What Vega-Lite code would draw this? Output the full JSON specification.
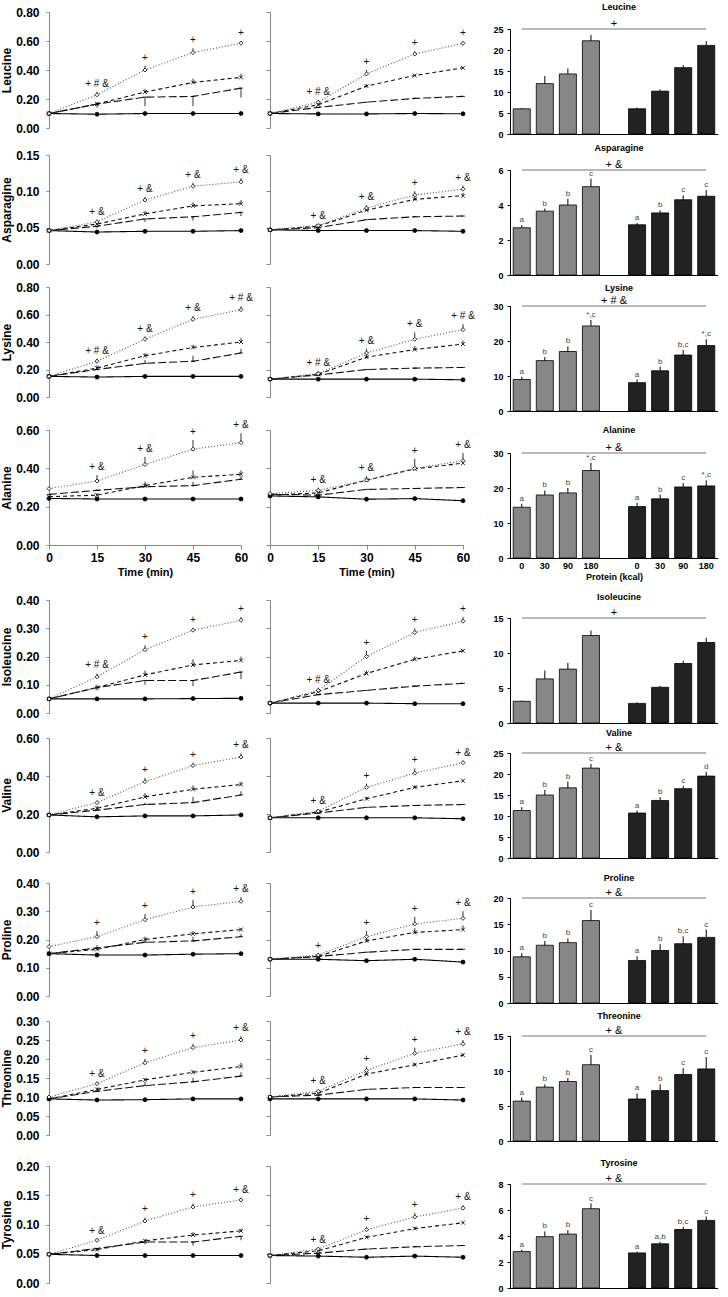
{
"$schema":"https://vega.github.io/schema/vega-lite/v6.json",
"padding":{"left":0,"top":0,"right":0,"bottom":0},
"config":{"font":"Liberation Sans","view":{"stroke":null},"axis":{"grid":false,"domainColor":"#000","tickColor":"#000","labelColor":"#000","titleColor":"#000","labelFontWeight":"bold","titleFontWeight":"bold"},"title":{"color":"#000"}},
"datasets":{
"lines":[
{"a":"Leucine","g":"A","dose":"0","t":0,"v":0.10},{"a":"Leucine","g":"A","dose":"0","t":15,"v":0.095},{"a":"Leucine","g":"A","dose":"0","t":30,"v":0.10},{"a":"Leucine","g":"A","dose":"0","t":45,"v":0.10},{"a":"Leucine","g":"A","dose":"0","t":60,"v":0.10},
{"a":"Leucine","g":"A","dose":"30","t":0,"v":0.10},{"a":"Leucine","g":"A","dose":"30","t":15,"v":0.165,"err":0.14},{"a":"Leucine","g":"A","dose":"30","t":30,"v":0.213,"err":0.15},{"a":"Leucine","g":"A","dose":"30","t":45,"v":0.218,"err":0.15},{"a":"Leucine","g":"A","dose":"30","t":60,"v":0.275,"err":0.21},
{"a":"Leucine","g":"A","dose":"90","t":0,"v":0.10},{"a":"Leucine","g":"A","dose":"90","t":15,"v":0.165,"err":0.18},{"a":"Leucine","g":"A","dose":"90","t":30,"v":0.248,"err":0.27},{"a":"Leucine","g":"A","dose":"90","t":45,"v":0.314,"err":0.34},{"a":"Leucine","g":"A","dose":"90","t":60,"v":0.349,"err":0.375},
{"a":"Leucine","g":"A","dose":"180","t":0,"v":0.10},{"a":"Leucine","g":"A","dose":"180","t":15,"v":0.229,"err":0.25,"note":"+ # &"},{"a":"Leucine","g":"A","dose":"180","t":30,"v":0.40,"err":0.43,"note":"+"},{"a":"Leucine","g":"A","dose":"180","t":45,"v":0.52,"err":0.55,"note":"+"},{"a":"Leucine","g":"A","dose":"180","t":60,"v":0.585,"err":0.60,"note":"+"},
{"a":"Leucine","g":"B","dose":"0","t":0,"v":0.10},{"a":"Leucine","g":"B","dose":"0","t":15,"v":0.097},{"a":"Leucine","g":"B","dose":"0","t":30,"v":0.097},{"a":"Leucine","g":"B","dose":"0","t":45,"v":0.10},{"a":"Leucine","g":"B","dose":"0","t":60,"v":0.098},
{"a":"Leucine","g":"B","dose":"30","t":0,"v":0.10},{"a":"Leucine","g":"B","dose":"30","t":15,"v":0.142},{"a":"Leucine","g":"B","dose":"30","t":30,"v":0.178},{"a":"Leucine","g":"B","dose":"30","t":45,"v":0.204},{"a":"Leucine","g":"B","dose":"30","t":60,"v":0.218},
{"a":"Leucine","g":"B","dose":"90","t":0,"v":0.10},{"a":"Leucine","g":"B","dose":"90","t":15,"v":0.16,"err":0.17},{"a":"Leucine","g":"B","dose":"90","t":30,"v":0.289,"err":0.30},{"a":"Leucine","g":"B","dose":"90","t":45,"v":0.362,"err":0.37},{"a":"Leucine","g":"B","dose":"90","t":60,"v":0.415,"err":0.42},
{"a":"Leucine","g":"B","dose":"180","t":0,"v":0.10},{"a":"Leucine","g":"B","dose":"180","t":15,"v":0.178,"err":0.19,"note":"+ # &"},{"a":"Leucine","g":"B","dose":"180","t":30,"v":0.373,"err":0.40,"note":"+"},{"a":"Leucine","g":"B","dose":"180","t":45,"v":0.51,"err":0.53,"note":"+"},{"a":"Leucine","g":"B","dose":"180","t":60,"v":0.584,"err":0.60,"note":"+"},

{"a":"Asparagine","g":"A","dose":"0","t":0,"v":0.046},{"a":"Asparagine","g":"A","dose":"0","t":15,"v":0.044},{"a":"Asparagine","g":"A","dose":"0","t":30,"v":0.045},{"a":"Asparagine","g":"A","dose":"0","t":45,"v":0.045},{"a":"Asparagine","g":"A","dose":"0","t":60,"v":0.046},
{"a":"Asparagine","g":"A","dose":"30","t":0,"v":0.046},{"a":"Asparagine","g":"A","dose":"30","t":15,"v":0.052,"err":0.049},{"a":"Asparagine","g":"A","dose":"30","t":30,"v":0.062,"err":0.058},{"a":"Asparagine","g":"A","dose":"30","t":45,"v":0.065,"err":0.060},{"a":"Asparagine","g":"A","dose":"30","t":60,"v":0.071,"err":0.066},
{"a":"Asparagine","g":"A","dose":"90","t":0,"v":0.046},{"a":"Asparagine","g":"A","dose":"90","t":15,"v":0.055,"err":0.058},{"a":"Asparagine","g":"A","dose":"90","t":30,"v":0.069,"err":0.073},{"a":"Asparagine","g":"A","dose":"90","t":45,"v":0.080,"err":0.085},{"a":"Asparagine","g":"A","dose":"90","t":60,"v":0.083,"err":0.088},
{"a":"Asparagine","g":"A","dose":"180","t":0,"v":0.046},{"a":"Asparagine","g":"A","dose":"180","t":15,"v":0.058,"err":0.061,"note":"+ &"},{"a":"Asparagine","g":"A","dose":"180","t":30,"v":0.088,"err":0.092,"note":"+ &"},{"a":"Asparagine","g":"A","dose":"180","t":45,"v":0.107,"err":0.112,"note":"+ &"},{"a":"Asparagine","g":"A","dose":"180","t":60,"v":0.113,"err":0.118,"note":"+ &"},
{"a":"Asparagine","g":"B","dose":"0","t":0,"v":0.047},{"a":"Asparagine","g":"B","dose":"0","t":15,"v":0.046},{"a":"Asparagine","g":"B","dose":"0","t":30,"v":0.046},{"a":"Asparagine","g":"B","dose":"0","t":45,"v":0.046},{"a":"Asparagine","g":"B","dose":"0","t":60,"v":0.045},
{"a":"Asparagine","g":"B","dose":"30","t":0,"v":0.047},{"a":"Asparagine","g":"B","dose":"30","t":15,"v":0.050},{"a":"Asparagine","g":"B","dose":"30","t":30,"v":0.061},{"a":"Asparagine","g":"B","dose":"30","t":45,"v":0.065},{"a":"Asparagine","g":"B","dose":"30","t":60,"v":0.066},
{"a":"Asparagine","g":"B","dose":"90","t":0,"v":0.047},{"a":"Asparagine","g":"B","dose":"90","t":15,"v":0.052,"err":0.054},{"a":"Asparagine","g":"B","dose":"90","t":30,"v":0.074,"err":0.078},{"a":"Asparagine","g":"B","dose":"90","t":45,"v":0.089,"err":0.093},{"a":"Asparagine","g":"B","dose":"90","t":60,"v":0.094,"err":0.098},
{"a":"Asparagine","g":"B","dose":"180","t":0,"v":0.047},{"a":"Asparagine","g":"B","dose":"180","t":15,"v":0.053,"err":0.055,"note":"+ &"},{"a":"Asparagine","g":"B","dose":"180","t":30,"v":0.077,"err":0.081,"note":"+ &"},{"a":"Asparagine","g":"B","dose":"180","t":45,"v":0.095,"err":0.100,"note":"+"},{"a":"Asparagine","g":"B","dose":"180","t":60,"v":0.103,"err":0.108,"note":"+ &"},

{"a":"Lysine","g":"A","dose":"0","t":0,"v":0.15},{"a":"Lysine","g":"A","dose":"0","t":15,"v":0.145},{"a":"Lysine","g":"A","dose":"0","t":30,"v":0.15},{"a":"Lysine","g":"A","dose":"0","t":45,"v":0.15},{"a":"Lysine","g":"A","dose":"0","t":60,"v":0.15},
{"a":"Lysine","g":"A","dose":"30","t":0,"v":0.15},{"a":"Lysine","g":"A","dose":"30","t":15,"v":0.20,"err":0.22},{"a":"Lysine","g":"A","dose":"30","t":30,"v":0.245,"err":0.27},{"a":"Lysine","g":"A","dose":"30","t":45,"v":0.26,"err":0.30},{"a":"Lysine","g":"A","dose":"30","t":60,"v":0.32,"err":0.35},
{"a":"Lysine","g":"A","dose":"90","t":0,"v":0.15},{"a":"Lysine","g":"A","dose":"90","t":15,"v":0.21,"err":0.23},{"a":"Lysine","g":"A","dose":"90","t":30,"v":0.30,"err":0.32},{"a":"Lysine","g":"A","dose":"90","t":45,"v":0.36,"err":0.38},{"a":"Lysine","g":"A","dose":"90","t":60,"v":0.40,"err":0.43},
{"a":"Lysine","g":"A","dose":"180","t":0,"v":0.15},{"a":"Lysine","g":"A","dose":"180","t":15,"v":0.26,"err":0.28,"note":"+ # &"},{"a":"Lysine","g":"A","dose":"180","t":30,"v":0.42,"err":0.44,"note":"+ &"},{"a":"Lysine","g":"A","dose":"180","t":45,"v":0.565,"err":0.59,"note":"+ &"},{"a":"Lysine","g":"A","dose":"180","t":60,"v":0.635,"err":0.66,"note":"+ # &"},
{"a":"Lysine","g":"B","dose":"0","t":0,"v":0.13},{"a":"Lysine","g":"B","dose":"0","t":15,"v":0.13},{"a":"Lysine","g":"B","dose":"0","t":30,"v":0.13},{"a":"Lysine","g":"B","dose":"0","t":45,"v":0.13},{"a":"Lysine","g":"B","dose":"0","t":60,"v":0.125},
{"a":"Lysine","g":"B","dose":"30","t":0,"v":0.13},{"a":"Lysine","g":"B","dose":"30","t":15,"v":0.16},{"a":"Lysine","g":"B","dose":"30","t":30,"v":0.20},{"a":"Lysine","g":"B","dose":"30","t":45,"v":0.21},{"a":"Lysine","g":"B","dose":"30","t":60,"v":0.215},
{"a":"Lysine","g":"B","dose":"90","t":0,"v":0.13},{"a":"Lysine","g":"B","dose":"90","t":15,"v":0.165,"err":0.18},{"a":"Lysine","g":"B","dose":"90","t":30,"v":0.29,"err":0.31},{"a":"Lysine","g":"B","dose":"90","t":45,"v":0.345,"err":0.37},{"a":"Lysine","g":"B","dose":"90","t":60,"v":0.385,"err":0.41},
{"a":"Lysine","g":"B","dose":"180","t":0,"v":0.13},{"a":"Lysine","g":"B","dose":"180","t":15,"v":0.17,"err":0.19,"note":"+ # &"},{"a":"Lysine","g":"B","dose":"180","t":30,"v":0.32,"err":0.35,"note":"+ &"},{"a":"Lysine","g":"B","dose":"180","t":45,"v":0.42,"err":0.47,"note":"+ &"},{"a":"Lysine","g":"B","dose":"180","t":60,"v":0.49,"err":0.53,"note":"+ # &"},

{"a":"Alanine","g":"A","dose":"0","t":0,"v":0.243},{"a":"Alanine","g":"A","dose":"0","t":15,"v":0.24},{"a":"Alanine","g":"A","dose":"0","t":30,"v":0.24},{"a":"Alanine","g":"A","dose":"0","t":45,"v":0.24},{"a":"Alanine","g":"A","dose":"0","t":60,"v":0.24},
{"a":"Alanine","g":"A","dose":"30","t":0,"v":0.264},{"a":"Alanine","g":"A","dose":"30","t":15,"v":0.285,"err":0.29},{"a":"Alanine","g":"A","dose":"30","t":30,"v":0.304,"err":0.32},{"a":"Alanine","g":"A","dose":"30","t":45,"v":0.31,"err":0.33},{"a":"Alanine","g":"A","dose":"30","t":60,"v":0.343,"err":0.36},
{"a":"Alanine","g":"A","dose":"90","t":0,"v":0.252},{"a":"Alanine","g":"A","dose":"90","t":15,"v":0.26,"err":0.27},{"a":"Alanine","g":"A","dose":"90","t":30,"v":0.31,"err":0.33},{"a":"Alanine","g":"A","dose":"90","t":45,"v":0.353,"err":0.39},{"a":"Alanine","g":"A","dose":"90","t":60,"v":0.369,"err":0.39},
{"a":"Alanine","g":"A","dose":"180","t":0,"v":0.294},{"a":"Alanine","g":"A","dose":"180","t":15,"v":0.334,"err":0.365,"note":"+ &"},{"a":"Alanine","g":"A","dose":"180","t":30,"v":0.42,"err":0.46,"note":"+ &"},{"a":"Alanine","g":"A","dose":"180","t":45,"v":0.50,"err":0.548,"note":"+"},{"a":"Alanine","g":"A","dose":"180","t":60,"v":0.534,"err":0.583,"note":"+ &"},
{"a":"Alanine","g":"B","dose":"0","t":0,"v":0.256},{"a":"Alanine","g":"B","dose":"0","t":15,"v":0.251},{"a":"Alanine","g":"B","dose":"0","t":30,"v":0.239},{"a":"Alanine","g":"B","dose":"0","t":45,"v":0.242},{"a":"Alanine","g":"B","dose":"0","t":60,"v":0.231},
{"a":"Alanine","g":"B","dose":"30","t":0,"v":0.265},{"a":"Alanine","g":"B","dose":"30","t":15,"v":0.26},{"a":"Alanine","g":"B","dose":"30","t":30,"v":0.29},{"a":"Alanine","g":"B","dose":"30","t":45,"v":0.295},{"a":"Alanine","g":"B","dose":"30","t":60,"v":0.30},
{"a":"Alanine","g":"B","dose":"90","t":0,"v":0.26},{"a":"Alanine","g":"B","dose":"90","t":15,"v":0.272,"err":0.28},{"a":"Alanine","g":"B","dose":"90","t":30,"v":0.338,"err":0.35},{"a":"Alanine","g":"B","dose":"90","t":45,"v":0.397,"err":0.41},{"a":"Alanine","g":"B","dose":"90","t":60,"v":0.427,"err":0.44},
{"a":"Alanine","g":"B","dose":"180","t":0,"v":0.268},{"a":"Alanine","g":"B","dose":"180","t":15,"v":0.285,"err":0.30,"note":"+ &"},{"a":"Alanine","g":"B","dose":"180","t":30,"v":0.338,"err":0.36,"note":"+ &"},{"a":"Alanine","g":"B","dose":"180","t":45,"v":0.40,"err":0.45,"note":"+"},{"a":"Alanine","g":"B","dose":"180","t":60,"v":0.44,"err":0.48,"note":"+ &"},

{"a":"Isoleucine","g":"A","dose":"0","t":0,"v":0.05},{"a":"Isoleucine","g":"A","dose":"0","t":15,"v":0.05},{"a":"Isoleucine","g":"A","dose":"0","t":30,"v":0.05},{"a":"Isoleucine","g":"A","dose":"0","t":45,"v":0.051},{"a":"Isoleucine","g":"A","dose":"0","t":60,"v":0.052},
{"a":"Isoleucine","g":"A","dose":"30","t":0,"v":0.05},{"a":"Isoleucine","g":"A","dose":"30","t":15,"v":0.09,"err":0.08},{"a":"Isoleucine","g":"A","dose":"30","t":30,"v":0.115,"err":0.10},{"a":"Isoleucine","g":"A","dose":"30","t":45,"v":0.115,"err":0.095},{"a":"Isoleucine","g":"A","dose":"30","t":60,"v":0.145,"err":0.12},
{"a":"Isoleucine","g":"A","dose":"90","t":0,"v":0.05},{"a":"Isoleucine","g":"A","dose":"90","t":15,"v":0.09,"err":0.10},{"a":"Isoleucine","g":"A","dose":"90","t":30,"v":0.135,"err":0.15},{"a":"Isoleucine","g":"A","dose":"90","t":45,"v":0.17,"err":0.19},{"a":"Isoleucine","g":"A","dose":"90","t":60,"v":0.186,"err":0.20},
{"a":"Isoleucine","g":"A","dose":"180","t":0,"v":0.05},{"a":"Isoleucine","g":"A","dose":"180","t":15,"v":0.128,"err":0.14,"note":"+ # &"},{"a":"Isoleucine","g":"A","dose":"180","t":30,"v":0.224,"err":0.24,"note":"+"},{"a":"Isoleucine","g":"A","dose":"180","t":45,"v":0.293,"err":0.30,"note":"+"},{"a":"Isoleucine","g":"A","dose":"180","t":60,"v":0.328,"err":0.34,"note":"+"},
{"a":"Isoleucine","g":"B","dose":"0","t":0,"v":0.035},{"a":"Isoleucine","g":"B","dose":"0","t":15,"v":0.035},{"a":"Isoleucine","g":"B","dose":"0","t":30,"v":0.035},{"a":"Isoleucine","g":"B","dose":"0","t":45,"v":0.033},{"a":"Isoleucine","g":"B","dose":"0","t":60,"v":0.033},
{"a":"Isoleucine","g":"B","dose":"30","t":0,"v":0.035},{"a":"Isoleucine","g":"B","dose":"30","t":15,"v":0.065},{"a":"Isoleucine","g":"B","dose":"30","t":30,"v":0.08},{"a":"Isoleucine","g":"B","dose":"30","t":45,"v":0.095},{"a":"Isoleucine","g":"B","dose":"30","t":60,"v":0.105},
{"a":"Isoleucine","g":"B","dose":"90","t":0,"v":0.035},{"a":"Isoleucine","g":"B","dose":"90","t":15,"v":0.075,"err":0.08},{"a":"Isoleucine","g":"B","dose":"90","t":30,"v":0.14,"err":0.15},{"a":"Isoleucine","g":"B","dose":"90","t":45,"v":0.19,"err":0.20},{"a":"Isoleucine","g":"B","dose":"90","t":60,"v":0.22,"err":0.225},
{"a":"Isoleucine","g":"B","dose":"180","t":0,"v":0.035},{"a":"Isoleucine","g":"B","dose":"180","t":15,"v":0.08,"err":0.09,"note":"+ # &"},{"a":"Isoleucine","g":"B","dose":"180","t":30,"v":0.20,"err":0.22,"note":"+"},{"a":"Isoleucine","g":"B","dose":"180","t":45,"v":0.285,"err":0.30,"note":"+"},{"a":"Isoleucine","g":"B","dose":"180","t":60,"v":0.325,"err":0.34,"note":"+"},

{"a":"Valine","g":"A","dose":"0","t":0,"v":0.195},{"a":"Valine","g":"A","dose":"0","t":15,"v":0.185},{"a":"Valine","g":"A","dose":"0","t":30,"v":0.19},{"a":"Valine","g":"A","dose":"0","t":45,"v":0.19},{"a":"Valine","g":"A","dose":"0","t":60,"v":0.195},
{"a":"Valine","g":"A","dose":"30","t":0,"v":0.195},{"a":"Valine","g":"A","dose":"30","t":15,"v":0.22,"err":0.23},{"a":"Valine","g":"A","dose":"30","t":30,"v":0.25,"err":0.26},{"a":"Valine","g":"A","dose":"30","t":45,"v":0.26,"err":0.29},{"a":"Valine","g":"A","dose":"30","t":60,"v":0.30,"err":0.32},
{"a":"Valine","g":"A","dose":"90","t":0,"v":0.195},{"a":"Valine","g":"A","dose":"90","t":15,"v":0.23,"err":0.24},{"a":"Valine","g":"A","dose":"90","t":30,"v":0.29,"err":0.31},{"a":"Valine","g":"A","dose":"90","t":45,"v":0.33,"err":0.35},{"a":"Valine","g":"A","dose":"90","t":60,"v":0.355,"err":0.37},
{"a":"Valine","g":"A","dose":"180","t":0,"v":0.195},{"a":"Valine","g":"A","dose":"180","t":15,"v":0.26,"err":0.27,"note":"+ &"},{"a":"Valine","g":"A","dose":"180","t":30,"v":0.37,"err":0.39,"note":"+"},{"a":"Valine","g":"A","dose":"180","t":45,"v":0.455,"err":0.47,"note":"+"},{"a":"Valine","g":"A","dose":"180","t":60,"v":0.50,"err":0.52,"note":"+ &"},
{"a":"Valine","g":"B","dose":"0","t":0,"v":0.18},{"a":"Valine","g":"B","dose":"0","t":15,"v":0.18},{"a":"Valine","g":"B","dose":"0","t":30,"v":0.18},{"a":"Valine","g":"B","dose":"0","t":45,"v":0.18},{"a":"Valine","g":"B","dose":"0","t":60,"v":0.175},
{"a":"Valine","g":"B","dose":"30","t":0,"v":0.18},{"a":"Valine","g":"B","dose":"30","t":15,"v":0.205},{"a":"Valine","g":"B","dose":"30","t":30,"v":0.235},{"a":"Valine","g":"B","dose":"30","t":45,"v":0.245},{"a":"Valine","g":"B","dose":"30","t":60,"v":0.25},
{"a":"Valine","g":"B","dose":"90","t":0,"v":0.18},{"a":"Valine","g":"B","dose":"90","t":15,"v":0.21,"err":0.22},{"a":"Valine","g":"B","dose":"90","t":30,"v":0.28,"err":0.29},{"a":"Valine","g":"B","dose":"90","t":45,"v":0.34,"err":0.35},{"a":"Valine","g":"B","dose":"90","t":60,"v":0.375,"err":0.38},
{"a":"Valine","g":"B","dose":"180","t":0,"v":0.18},{"a":"Valine","g":"B","dose":"180","t":15,"v":0.215,"err":0.225,"note":"+ &"},{"a":"Valine","g":"B","dose":"180","t":30,"v":0.34,"err":0.36,"note":"+"},{"a":"Valine","g":"B","dose":"180","t":45,"v":0.415,"err":0.44,"note":"+"},{"a":"Valine","g":"B","dose":"180","t":60,"v":0.47,"err":0.48,"note":"+ &"},

{"a":"Proline","g":"A","dose":"0","t":0,"v":0.15},{"a":"Proline","g":"A","dose":"0","t":15,"v":0.145},{"a":"Proline","g":"A","dose":"0","t":30,"v":0.145},{"a":"Proline","g":"A","dose":"0","t":45,"v":0.148},{"a":"Proline","g":"A","dose":"0","t":60,"v":0.15},
{"a":"Proline","g":"A","dose":"30","t":0,"v":0.15},{"a":"Proline","g":"A","dose":"30","t":15,"v":0.17,"err":0.18},{"a":"Proline","g":"A","dose":"30","t":30,"v":0.19,"err":0.20},{"a":"Proline","g":"A","dose":"30","t":45,"v":0.195,"err":0.21},{"a":"Proline","g":"A","dose":"30","t":60,"v":0.21,"err":0.22},
{"a":"Proline","g":"A","dose":"90","t":0,"v":0.15},{"a":"Proline","g":"A","dose":"90","t":15,"v":0.165,"err":0.17},{"a":"Proline","g":"A","dose":"90","t":30,"v":0.20,"err":0.21},{"a":"Proline","g":"A","dose":"90","t":45,"v":0.22,"err":0.23},{"a":"Proline","g":"A","dose":"90","t":60,"v":0.235,"err":0.24},
{"a":"Proline","g":"A","dose":"180","t":0,"v":0.175},{"a":"Proline","g":"A","dose":"180","t":15,"v":0.21,"err":0.23,"note":"+"},{"a":"Proline","g":"A","dose":"180","t":30,"v":0.27,"err":0.29,"note":"+"},{"a":"Proline","g":"A","dose":"180","t":45,"v":0.315,"err":0.34,"note":"+"},{"a":"Proline","g":"A","dose":"180","t":60,"v":0.335,"err":0.35,"note":"+ &"},
{"a":"Proline","g":"B","dose":"0","t":0,"v":0.13},{"a":"Proline","g":"B","dose":"0","t":15,"v":0.13},{"a":"Proline","g":"B","dose":"0","t":30,"v":0.125},{"a":"Proline","g":"B","dose":"0","t":45,"v":0.13},{"a":"Proline","g":"B","dose":"0","t":60,"v":0.12},
{"a":"Proline","g":"B","dose":"30","t":0,"v":0.13},{"a":"Proline","g":"B","dose":"30","t":15,"v":0.14},{"a":"Proline","g":"B","dose":"30","t":30,"v":0.155},{"a":"Proline","g":"B","dose":"30","t":45,"v":0.165},{"a":"Proline","g":"B","dose":"30","t":60,"v":0.165},
{"a":"Proline","g":"B","dose":"90","t":0,"v":0.13},{"a":"Proline","g":"B","dose":"90","t":15,"v":0.14,"err":0.15},{"a":"Proline","g":"B","dose":"90","t":30,"v":0.195,"err":0.21},{"a":"Proline","g":"B","dose":"90","t":45,"v":0.225,"err":0.24},{"a":"Proline","g":"B","dose":"90","t":60,"v":0.235,"err":0.25},
{"a":"Proline","g":"B","dose":"180","t":0,"v":0.13},{"a":"Proline","g":"B","dose":"180","t":15,"v":0.145,"err":0.15,"note":"+"},{"a":"Proline","g":"B","dose":"180","t":30,"v":0.21,"err":0.23,"note":"+"},{"a":"Proline","g":"B","dose":"180","t":45,"v":0.255,"err":0.28,"note":"+"},{"a":"Proline","g":"B","dose":"180","t":60,"v":0.275,"err":0.30,"note":"+ &"},

{"a":"Threonine","g":"A","dose":"0","t":0,"v":0.095},{"a":"Threonine","g":"A","dose":"0","t":15,"v":0.092},{"a":"Threonine","g":"A","dose":"0","t":30,"v":0.093},{"a":"Threonine","g":"A","dose":"0","t":45,"v":0.095},{"a":"Threonine","g":"A","dose":"0","t":60,"v":0.095},
{"a":"Threonine","g":"A","dose":"30","t":0,"v":0.095},{"a":"Threonine","g":"A","dose":"30","t":15,"v":0.115,"err":0.12},{"a":"Threonine","g":"A","dose":"30","t":30,"v":0.13,"err":0.14},{"a":"Threonine","g":"A","dose":"30","t":45,"v":0.14,"err":0.15},{"a":"Threonine","g":"A","dose":"30","t":60,"v":0.155,"err":0.165},
{"a":"Threonine","g":"A","dose":"90","t":0,"v":0.095},{"a":"Threonine","g":"A","dose":"90","t":15,"v":0.12,"err":0.125},{"a":"Threonine","g":"A","dose":"90","t":30,"v":0.145,"err":0.15},{"a":"Threonine","g":"A","dose":"90","t":45,"v":0.165,"err":0.17},{"a":"Threonine","g":"A","dose":"90","t":60,"v":0.18,"err":0.19},
{"a":"Threonine","g":"A","dose":"180","t":0,"v":0.10},{"a":"Threonine","g":"A","dose":"180","t":15,"v":0.135,"err":0.14,"note":"+ &"},{"a":"Threonine","g":"A","dose":"180","t":30,"v":0.19,"err":0.20,"note":"+"},{"a":"Threonine","g":"A","dose":"180","t":45,"v":0.23,"err":0.24,"note":"+"},{"a":"Threonine","g":"A","dose":"180","t":60,"v":0.25,"err":0.26,"note":"+ &"},
{"a":"Threonine","g":"B","dose":"0","t":0,"v":0.095},{"a":"Threonine","g":"B","dose":"0","t":15,"v":0.095},{"a":"Threonine","g":"B","dose":"0","t":30,"v":0.095},{"a":"Threonine","g":"B","dose":"0","t":45,"v":0.095},{"a":"Threonine","g":"B","dose":"0","t":60,"v":0.092},
{"a":"Threonine","g":"B","dose":"30","t":0,"v":0.10},{"a":"Threonine","g":"B","dose":"30","t":15,"v":0.105},{"a":"Threonine","g":"B","dose":"30","t":30,"v":0.12},{"a":"Threonine","g":"B","dose":"30","t":45,"v":0.125},{"a":"Threonine","g":"B","dose":"30","t":60,"v":0.125},
{"a":"Threonine","g":"B","dose":"90","t":0,"v":0.10},{"a":"Threonine","g":"B","dose":"90","t":15,"v":0.11,"err":0.115},{"a":"Threonine","g":"B","dose":"90","t":30,"v":0.16,"err":0.17},{"a":"Threonine","g":"B","dose":"90","t":45,"v":0.185,"err":0.19},{"a":"Threonine","g":"B","dose":"90","t":60,"v":0.21,"err":0.215},
{"a":"Threonine","g":"B","dose":"180","t":0,"v":0.10},{"a":"Threonine","g":"B","dose":"180","t":15,"v":0.115,"err":0.12,"note":"+ &"},{"a":"Threonine","g":"B","dose":"180","t":30,"v":0.17,"err":0.18,"note":"+"},{"a":"Threonine","g":"B","dose":"180","t":45,"v":0.215,"err":0.23,"note":"+"},{"a":"Threonine","g":"B","dose":"180","t":60,"v":0.24,"err":0.25,"note":"+ &"},

{"a":"Tyrosine","g":"A","dose":"0","t":0,"v":0.049},{"a":"Tyrosine","g":"A","dose":"0","t":15,"v":0.047},{"a":"Tyrosine","g":"A","dose":"0","t":30,"v":0.047},{"a":"Tyrosine","g":"A","dose":"0","t":45,"v":0.047},{"a":"Tyrosine","g":"A","dose":"0","t":60,"v":0.047},
{"a":"Tyrosine","g":"A","dose":"30","t":0,"v":0.049},{"a":"Tyrosine","g":"A","dose":"30","t":15,"v":0.059,"err":0.055},{"a":"Tyrosine","g":"A","dose":"30","t":30,"v":0.07,"err":0.066},{"a":"Tyrosine","g":"A","dose":"30","t":45,"v":0.07,"err":0.064},{"a":"Tyrosine","g":"A","dose":"30","t":60,"v":0.08,"err":0.073},
{"a":"Tyrosine","g":"A","dose":"90","t":0,"v":0.049},{"a":"Tyrosine","g":"A","dose":"90","t":15,"v":0.057,"err":0.06},{"a":"Tyrosine","g":"A","dose":"90","t":30,"v":0.072,"err":0.075},{"a":"Tyrosine","g":"A","dose":"90","t":45,"v":0.082,"err":0.087},{"a":"Tyrosine","g":"A","dose":"90","t":60,"v":0.089,"err":0.093},
{"a":"Tyrosine","g":"A","dose":"180","t":0,"v":0.049},{"a":"Tyrosine","g":"A","dose":"180","t":15,"v":0.073,"err":0.076,"note":"+ &"},{"a":"Tyrosine","g":"A","dose":"180","t":30,"v":0.106,"err":0.112,"note":"+"},{"a":"Tyrosine","g":"A","dose":"180","t":45,"v":0.130,"err":0.136,"note":"+"},{"a":"Tyrosine","g":"A","dose":"180","t":60,"v":0.142,"err":0.145,"note":"+ &"},
{"a":"Tyrosine","g":"B","dose":"0","t":0,"v":0.047},{"a":"Tyrosine","g":"B","dose":"0","t":15,"v":0.046},{"a":"Tyrosine","g":"B","dose":"0","t":30,"v":0.044},{"a":"Tyrosine","g":"B","dose":"0","t":45,"v":0.046},{"a":"Tyrosine","g":"B","dose":"0","t":60,"v":0.044},
{"a":"Tyrosine","g":"B","dose":"30","t":0,"v":0.047},{"a":"Tyrosine","g":"B","dose":"30","t":15,"v":0.051},{"a":"Tyrosine","g":"B","dose":"30","t":30,"v":0.058},{"a":"Tyrosine","g":"B","dose":"30","t":45,"v":0.062},{"a":"Tyrosine","g":"B","dose":"30","t":60,"v":0.064},
{"a":"Tyrosine","g":"B","dose":"90","t":0,"v":0.047},{"a":"Tyrosine","g":"B","dose":"90","t":15,"v":0.055,"err":0.056},{"a":"Tyrosine","g":"B","dose":"90","t":30,"v":0.078,"err":0.081},{"a":"Tyrosine","g":"B","dose":"90","t":45,"v":0.093,"err":0.096},{"a":"Tyrosine","g":"B","dose":"90","t":60,"v":0.103,"err":0.105},
{"a":"Tyrosine","g":"B","dose":"180","t":0,"v":0.047},{"a":"Tyrosine","g":"B","dose":"180","t":15,"v":0.058,"err":0.06,"note":"+ &"},{"a":"Tyrosine","g":"B","dose":"180","t":30,"v":0.091,"err":0.096,"note":"+"},{"a":"Tyrosine","g":"B","dose":"180","t":45,"v":0.113,"err":0.12,"note":"+"},{"a":"Tyrosine","g":"B","dose":"180","t":60,"v":0.128,"err":0.133,"note":"+ &"}
],
"bars":[
{"a":"Leucine","slot":"A0","g":"A","v":6.0,"err":6.2},{"a":"Leucine","slot":"A30","g":"A","v":12.0,"err":13.8},{"a":"Leucine","slot":"A90","g":"A","v":14.3,"err":15.6},{"a":"Leucine","slot":"A180","g":"A","v":22.2,"err":23.6},
{"a":"Leucine","slot":"B0","g":"B","v":6.0,"err":6.3},{"a":"Leucine","slot":"B30","g":"B","v":10.2,"err":10.6},{"a":"Leucine","slot":"B90","g":"B","v":15.8,"err":16.4},{"a":"Leucine","slot":"B180","g":"B","v":21.1,"err":22.1},
{"a":"Asparagine","slot":"A0","g":"A","v":2.7,"err":2.85,"note":"a"},{"a":"Asparagine","slot":"A30","g":"A","v":3.65,"err":3.8,"note":"b"},{"a":"Asparagine","slot":"A90","g":"A","v":4.0,"err":4.35,"note":"b"},{"a":"Asparagine","slot":"A180","g":"A","v":5.05,"err":5.5,"note":"c"},
{"a":"Asparagine","slot":"B0","g":"B","v":2.87,"err":2.97,"note":"a"},{"a":"Asparagine","slot":"B30","g":"B","v":3.55,"err":3.7,"note":"b"},{"a":"Asparagine","slot":"B90","g":"B","v":4.3,"err":4.55,"note":"c"},{"a":"Asparagine","slot":"B180","g":"B","v":4.5,"err":4.85,"note":"c"},
{"a":"Lysine","slot":"A0","g":"A","v":9.0,"err":9.8,"note":"a"},{"a":"Lysine","slot":"A30","g":"A","v":14.4,"err":15.4,"note":"b"},{"a":"Lysine","slot":"A90","g":"A","v":17.0,"err":18.5,"note":"b"},{"a":"Lysine","slot":"A180","g":"A","v":24.3,"err":26.0,"note":"*,c"},
{"a":"Lysine","slot":"B0","g":"B","v":8.1,"err":9.0,"note":"a"},{"a":"Lysine","slot":"B30","g":"B","v":11.5,"err":12.7,"note":"b"},{"a":"Lysine","slot":"B90","g":"B","v":16.0,"err":17.4,"note":"b,c"},{"a":"Lysine","slot":"B180","g":"B","v":18.7,"err":20.5,"note":"*,c"},
{"a":"Alanine","slot":"A0","g":"A","v":14.5,"err":15.5,"note":"a"},{"a":"Alanine","slot":"A30","g":"A","v":18.0,"err":19.3,"note":"b"},{"a":"Alanine","slot":"A90","g":"A","v":18.6,"err":20.0,"note":"b"},{"a":"Alanine","slot":"A180","g":"A","v":25.0,"err":27.2,"note":"*,c"},
{"a":"Alanine","slot":"B0","g":"B","v":14.7,"err":15.8,"note":"a"},{"a":"Alanine","slot":"B30","g":"B","v":16.9,"err":18.1,"note":"b"},{"a":"Alanine","slot":"B90","g":"B","v":20.3,"err":21.4,"note":"c"},{"a":"Alanine","slot":"B180","g":"B","v":20.6,"err":22.2,"note":"*,c"},
{"a":"Isoleucine","slot":"A0","g":"A","v":3.1,"err":3.2},{"a":"Isoleucine","slot":"A30","g":"A","v":6.3,"err":7.5},{"a":"Isoleucine","slot":"A90","g":"A","v":7.7,"err":8.6},{"a":"Isoleucine","slot":"A180","g":"A","v":12.5,"err":13.2},
{"a":"Isoleucine","slot":"B0","g":"B","v":2.8,"err":2.95},{"a":"Isoleucine","slot":"B30","g":"B","v":5.1,"err":5.3},{"a":"Isoleucine","slot":"B90","g":"B","v":8.5,"err":8.9},{"a":"Isoleucine","slot":"B180","g":"B","v":11.5,"err":12.2},
{"a":"Valine","slot":"A0","g":"A","v":11.3,"err":12.1,"note":"a"},{"a":"Valine","slot":"A30","g":"A","v":15.0,"err":16.2,"note":"b"},{"a":"Valine","slot":"A90","g":"A","v":16.7,"err":18.2,"note":"b"},{"a":"Valine","slot":"A180","g":"A","v":21.4,"err":22.4,"note":"c"},
{"a":"Valine","slot":"B0","g":"B","v":10.7,"err":11.3,"note":"a"},{"a":"Valine","slot":"B30","g":"B","v":13.7,"err":14.5,"note":"b"},{"a":"Valine","slot":"B90","g":"B","v":16.5,"err":17.2,"note":"c"},{"a":"Valine","slot":"B180","g":"B","v":19.5,"err":20.5,"note":"d"},
{"a":"Proline","slot":"A0","g":"A","v":8.8,"err":9.5,"note":"a"},{"a":"Proline","slot":"A30","g":"A","v":11.0,"err":11.8,"note":"b"},{"a":"Proline","slot":"A90","g":"A","v":11.5,"err":12.3,"note":"b"},{"a":"Proline","slot":"A180","g":"A","v":15.7,"err":17.7,"note":"c"},
{"a":"Proline","slot":"B0","g":"B","v":8.1,"err":8.9,"note":"a"},{"a":"Proline","slot":"B30","g":"B","v":10.0,"err":11.2,"note":"b"},{"a":"Proline","slot":"B90","g":"B","v":11.3,"err":12.7,"note":"b,c"},{"a":"Proline","slot":"B180","g":"B","v":12.5,"err":14.0,"note":"c"},
{"a":"Threonine","slot":"A0","g":"A","v":5.7,"err":6.2,"note":"a"},{"a":"Threonine","slot":"A30","g":"A","v":7.7,"err":8.1,"note":"b"},{"a":"Threonine","slot":"A90","g":"A","v":8.5,"err":9.0,"note":"b"},{"a":"Threonine","slot":"A180","g":"A","v":10.9,"err":12.3,"note":"c"},
{"a":"Threonine","slot":"B0","g":"B","v":6.0,"err":6.8,"note":"a"},{"a":"Threonine","slot":"B30","g":"B","v":7.2,"err":8.1,"note":"b"},{"a":"Threonine","slot":"B90","g":"B","v":9.5,"err":10.4,"note":"c"},{"a":"Threonine","slot":"B180","g":"B","v":10.3,"err":12.0,"note":"c"},
{"a":"Tyrosine","slot":"A0","g":"A","v":2.8,"err":2.95,"note":"a"},{"a":"Tyrosine","slot":"A30","g":"A","v":3.95,"err":4.35,"note":"b"},{"a":"Tyrosine","slot":"A90","g":"A","v":4.15,"err":4.45,"note":"b"},{"a":"Tyrosine","slot":"A180","g":"A","v":6.1,"err":6.5,"note":"c"},
{"a":"Tyrosine","slot":"B0","g":"B","v":2.7,"err":2.8,"note":"a"},{"a":"Tyrosine","slot":"B30","g":"B","v":3.4,"err":3.55,"note":"a,b"},{"a":"Tyrosine","slot":"B90","g":"B","v":4.5,"err":4.7,"note":"b,c"},{"a":"Tyrosine","slot":"B180","g":"B","v":5.2,"err":5.5,"note":"c"}
],
"sig":[
{"a":"Leucine","note":"+","from":"A0","to":"B180","mid":"gap","top":25},
{"a":"Asparagine","note":"+ &","from":"A0","to":"B180","mid":"gap","top":6},
{"a":"Lysine","note":"+ # &","from":"A0","to":"B180","mid":"gap","top":30},
{"a":"Alanine","note":"+ &","from":"A0","to":"B180","mid":"gap","top":30},
{"a":"Isoleucine","note":"+","from":"A0","to":"B180","mid":"gap","top":15},
{"a":"Valine","note":"+ &","from":"A0","to":"B180","mid":"gap","top":25},
{"a":"Proline","note":"+ &","from":"A0","to":"B180","mid":"gap","top":20},
{"a":"Threonine","note":"+ &","from":"A0","to":"B180","mid":"gap","top":15},
{"a":"Tyrosine","note":"+ &","from":"A0","to":"B180","mid":"gap","top":8}
]
},
"spacing":1,
"vconcat":[
{"hconcat":[
{"width":192,"height":128,"data":{"name":"lines"},"transform":[{"filter":"datum.a=='Leucine' && datum.g=='A'"}],"encoding":{"x":{"field":"t","type":"quantitative","scale":{"domain":[0,60]},"axis":null},"y":{"field":"v","type":"quantitative","scale":{"domain":[0,0.8],"range":[128,12]},"axis":{"values":[0,0.2,0.4,0.6,0.8],"format":".2f","title":"Leucine","labelFontSize":12,"titleFontSize":12,"tickSize":3,"labelPadding":7,"titlePadding":2,"domainColor":"#888","tickColor":"#888"}}},
"layer":[
{"mark":{"type":"line","strokeWidth":1.1},"encoding":{"strokeDash":{"field":"dose","type":"nominal","scale":{"domain":["0","30","90","180"],"range":[[1,0],[8,3],[4,3],[1,2]]},"legend":null},"stroke":{"field":"dose","type":"nominal","scale":{"domain":["0","30","90","180"],"range":["#000","#111","#111","#555"]},"legend":null}}},
{"transform":[{"filter":"isValid(datum.err)"}],"mark":{"type":"rule","strokeWidth":0.8,"color":"#000"},"encoding":{"y2":{"field":"err"}}},
{"mark":{"type":"point","filled":true,"stroke":"#000","strokeWidth":0.8,"size":16,"opacity":1},"encoding":{"shape":{"field":"dose","type":"nominal","scale":{"domain":["0","30","90","180"],"range":["circle","stroke","M-1,-1L1,1M1,-1L-1,1","diamond"]},"legend":null},"fill":{"field":"dose","type":"nominal","scale":{"domain":["0","30","90","180"],"range":["#000","#000","#000","#fff"]},"legend":null}}},
{"transform":[{"filter":"isValid(datum.note)"}],"mark":{"type":"text","dy":-8,"fontSize":10,"color":"#111"},"encoding":{"y":{"field":"err","type":"quantitative"},"text":{"field":"note"}}}
]},
{"width":211,"height":128,"data":{"name":"lines"},"transform":[{"filter":"datum.a=='Leucine' && datum.g=='B'"}],"encoding":{"x":{"field":"t","type":"quantitative","scale":{"domain":[0,60],"range":[0,193]},"axis":null},"y":{"field":"v","type":"quantitative","scale":{"domain":[0,0.8],"range":[128,12]},"axis":{"values":[0,0.2,0.4,0.6,0.8],"labels":false,"title":null,"tickSize":4,"domainColor":"#888","tickColor":"#888"}}},
"layer":[
{"mark":{"type":"line","strokeWidth":1.1},"encoding":{"strokeDash":{"field":"dose","type":"nominal","scale":{"domain":["0","30","90","180"],"range":[[1,0],[8,3],[4,3],[1,2]]},"legend":null},"stroke":{"field":"dose","type":"nominal","scale":{"domain":["0","30","90","180"],"range":["#000","#111","#111","#555"]},"legend":null}}},
{"transform":[{"filter":"isValid(datum.err)"}],"mark":{"type":"rule","strokeWidth":0.8,"color":"#000"},"encoding":{"y2":{"field":"err"}}},
{"mark":{"type":"point","filled":true,"stroke":"#000","strokeWidth":0.8,"size":16,"opacity":1},"encoding":{"shape":{"field":"dose","type":"nominal","scale":{"domain":["0","30","90","180"],"range":["circle","stroke","M-1,-1L1,1M1,-1L-1,1","diamond"]},"legend":null},"fill":{"field":"dose","type":"nominal","scale":{"domain":["0","30","90","180"],"range":["#000","#000","#000","#fff"]},"legend":null}}},
{"transform":[{"filter":"isValid(datum.note)"}],"mark":{"type":"text","dy":-8,"fontSize":10,"color":"#111"},"encoding":{"y":{"field":"err","type":"quantitative"},"text":{"field":"note"}}}
]},
{"width":208,"height":134,"title":{"text":"Leucine","fontSize":9,"fontWeight":"bold","frame":"group","offset":0,"dy":12,"dx":5},"data":{"name":"bars"},"transform":[{"filter":"datum.a=='Leucine'"}],"encoding":{"x":{"field":"slot","type":"nominal","scale":{"domain":["A0","A30","A90","A180","gap","B0","B30","B90","B180"],"paddingInner":0.26,"paddingOuter":0.14},"axis":{"labels":false,"ticks":false,"title":null}},"y":{"field":"v","type":"quantitative","scale":{"domain":[0,25],"range":[134,29],"nice":false},"axis":{"values":[0,5,10,15,20,25],"title":null,"labelFontSize":9,"tickSize":3,"labelPadding":4}}},
"layer":[
{"mark":{"type":"bar","stroke":"#000","strokeWidth":0.8},"encoding":{"color":{"field":"g","type":"nominal","scale":{"domain":["A","B"],"range":["#878787","#222222"]},"legend":null}}},
{"mark":{"type":"rule","color":"#000","strokeWidth":1},"encoding":{"y2":{"field":"err"}}},
{"transform":[{"filter":"isValid(datum.note)"}],"mark":{"type":"text","dy":-5,"fontSize":8,"color":"#444"},"encoding":{"y":{"field":"err","type":"quantitative"},"text":{"field":"note"}}},
{"data":{"name":"sig"},"transform":[{"filter":"datum.a=='Leucine'"}],"mark":{"type":"rule","color":"#777","strokeWidth":1},"encoding":{"x":{"field":"from","type":"nominal"},"x2":{"field":"to"},"y":{"field":"top","type":"quantitative"}}},
{"data":{"name":"sig"},"transform":[{"filter":"datum.a=='Leucine'"}],"mark":{"type":"text","dy":-5,"fontSize":11,"color":"#000"},"encoding":{"x":{"field":"mid","type":"nominal"},"y":{"field":"top","type":"quantitative"},"text":{"field":"note"}}}
]}
],"spacing":29,"bounds":"flush"},

{"hconcat":[
{"width":192,"height":124,"data":{"name":"lines"},"transform":[{"filter":"datum.a=='Asparagine' && datum.g=='A'"}],"encoding":{"x":{"field":"t","type":"quantitative","scale":{"domain":[0,60]},"axis":null},"y":{"field":"v","type":"quantitative","scale":{"domain":[0,0.15],"range":[124,15]},"axis":{"values":[0,0.05,0.1,0.15],"format":".2f","title":"Asparagine","labelFontSize":12,"titleFontSize":12,"tickSize":3,"labelPadding":7,"titlePadding":2,"domainColor":"#888","tickColor":"#888"}}},
"layer":[
{"mark":{"type":"line","strokeWidth":1.1},"encoding":{"strokeDash":{"field":"dose","type":"nominal","scale":{"domain":["0","30","90","180"],"range":[[1,0],[8,3],[4,3],[1,2]]},"legend":null},"stroke":{"field":"dose","type":"nominal","scale":{"domain":["0","30","90","180"],"range":["#000","#111","#111","#555"]},"legend":null}}},
{"transform":[{"filter":"isValid(datum.err)"}],"mark":{"type":"rule","strokeWidth":0.8,"color":"#000"},"encoding":{"y2":{"field":"err"}}},
{"mark":{"type":"point","filled":true,"stroke":"#000","strokeWidth":0.8,"size":16,"opacity":1},"encoding":{"shape":{"field":"dose","type":"nominal","scale":{"domain":["0","30","90","180"],"range":["circle","stroke","M-1,-1L1,1M1,-1L-1,1","diamond"]},"legend":null},"fill":{"field":"dose","type":"nominal","scale":{"domain":["0","30","90","180"],"range":["#000","#000","#000","#fff"]},"legend":null}}},
{"transform":[{"filter":"isValid(datum.note)"}],"mark":{"type":"text","dy":-8,"fontSize":10,"color":"#111"},"encoding":{"y":{"field":"err","type":"quantitative"},"text":{"field":"note"}}}
]},
{"width":211,"height":124,"data":{"name":"lines"},"transform":[{"filter":"datum.a=='Asparagine' && datum.g=='B'"}],"encoding":{"x":{"field":"t","type":"quantitative","scale":{"domain":[0,60],"range":[0,193]},"axis":null},"y":{"field":"v","type":"quantitative","scale":{"domain":[0,0.15],"range":[124,15]},"axis":{"values":[0,0.05,0.1,0.15],"labels":false,"title":null,"tickSize":4,"domainColor":"#888","tickColor":"#888"}}},
"layer":[
{"mark":{"type":"line","strokeWidth":1.1},"encoding":{"strokeDash":{"field":"dose","type":"nominal","scale":{"domain":["0","30","90","180"],"range":[[1,0],[8,3],[4,3],[1,2]]},"legend":null},"stroke":{"field":"dose","type":"nominal","scale":{"domain":["0","30","90","180"],"range":["#000","#111","#111","#555"]},"legend":null}}},
{"transform":[{"filter":"isValid(datum.err)"}],"mark":{"type":"rule","strokeWidth":0.8,"color":"#000"},"encoding":{"y2":{"field":"err"}}},
{"mark":{"type":"point","filled":true,"stroke":"#000","strokeWidth":0.8,"size":16,"opacity":1},"encoding":{"shape":{"field":"dose","type":"nominal","scale":{"domain":["0","30","90","180"],"range":["circle","stroke","M-1,-1L1,1M1,-1L-1,1","diamond"]},"legend":null},"fill":{"field":"dose","type":"nominal","scale":{"domain":["0","30","90","180"],"range":["#000","#000","#000","#fff"]},"legend":null}}},
{"transform":[{"filter":"isValid(datum.note)"}],"mark":{"type":"text","dy":-8,"fontSize":10,"color":"#111"},"encoding":{"y":{"field":"err","type":"quantitative"},"text":{"field":"note"}}}
]},
{"width":208,"height":135,"title":{"text":"Asparagine","fontSize":9,"fontWeight":"bold","frame":"group","offset":0,"dy":13,"dx":5},"data":{"name":"bars"},"transform":[{"filter":"datum.a=='Asparagine'"}],"encoding":{"x":{"field":"slot","type":"nominal","scale":{"domain":["A0","A30","A90","A180","gap","B0","B30","B90","B180"],"paddingInner":0.26,"paddingOuter":0.14},"axis":{"labels":false,"ticks":false,"title":null}},"y":{"field":"v","type":"quantitative","scale":{"domain":[0,6],"range":[135,30],"nice":false},"axis":{"values":[0,2,4,6],"title":null,"labelFontSize":9,"tickSize":3,"labelPadding":4}}},
"layer":[
{"mark":{"type":"bar","stroke":"#000","strokeWidth":0.8},"encoding":{"color":{"field":"g","type":"nominal","scale":{"domain":["A","B"],"range":["#878787","#222222"]},"legend":null}}},
{"mark":{"type":"rule","color":"#000","strokeWidth":1},"encoding":{"y2":{"field":"err"}}},
{"transform":[{"filter":"isValid(datum.note)"}],"mark":{"type":"text","dy":-5,"fontSize":8,"color":"#444"},"encoding":{"y":{"field":"err","type":"quantitative"},"text":{"field":"note"}}},
{"data":{"name":"sig"},"transform":[{"filter":"datum.a=='Asparagine'"}],"mark":{"type":"rule","color":"#777","strokeWidth":1},"encoding":{"x":{"field":"from","type":"nominal"},"x2":{"field":"to"},"y":{"field":"top","type":"quantitative"}}},
{"data":{"name":"sig"},"transform":[{"filter":"datum.a=='Asparagine'"}],"mark":{"type":"text","dy":-5,"fontSize":11,"color":"#000"},"encoding":{"x":{"field":"mid","type":"nominal"},"y":{"field":"top","type":"quantitative"},"text":{"field":"note"}}}
]}
],"spacing":29,"bounds":"flush"},

{"hconcat":[
{"width":192,"height":116,"data":{"name":"lines"},"transform":[{"filter":"datum.a=='Lysine' && datum.g=='A'"}],"encoding":{"x":{"field":"t","type":"quantitative","scale":{"domain":[0,60]},"axis":null},"y":{"field":"v","type":"quantitative","scale":{"domain":[0,0.8],"range":[116,6]},"axis":{"values":[0,0.2,0.4,0.6,0.8],"format":".2f","title":"Lysine","labelFontSize":12,"titleFontSize":12,"tickSize":3,"labelPadding":7,"titlePadding":2,"domainColor":"#888","tickColor":"#888"}}},
"layer":[
{"mark":{"type":"line","strokeWidth":1.1},"encoding":{"strokeDash":{"field":"dose","type":"nominal","scale":{"domain":["0","30","90","180"],"range":[[1,0],[8,3],[4,3],[1,2]]},"legend":null},"stroke":{"field":"dose","type":"nominal","scale":{"domain":["0","30","90","180"],"range":["#000","#111","#111","#555"]},"legend":null}}},
{"transform":[{"filter":"isValid(datum.err)"}],"mark":{"type":"rule","strokeWidth":0.8,"color":"#000"},"encoding":{"y2":{"field":"err"}}},
{"mark":{"type":"point","filled":true,"stroke":"#000","strokeWidth":0.8,"size":16,"opacity":1},"encoding":{"shape":{"field":"dose","type":"nominal","scale":{"domain":["0","30","90","180"],"range":["circle","stroke","M-1,-1L1,1M1,-1L-1,1","diamond"]},"legend":null},"fill":{"field":"dose","type":"nominal","scale":{"domain":["0","30","90","180"],"range":["#000","#000","#000","#fff"]},"legend":null}}},
{"transform":[{"filter":"isValid(datum.note)"}],"mark":{"type":"text","dy":-8,"fontSize":10,"color":"#111"},"encoding":{"y":{"field":"err","type":"quantitative"},"text":{"field":"note"}}}
]},
{"width":211,"height":116,"data":{"name":"lines"},"transform":[{"filter":"datum.a=='Lysine' && datum.g=='B'"}],"encoding":{"x":{"field":"t","type":"quantitative","scale":{"domain":[0,60],"range":[0,193]},"axis":null},"y":{"field":"v","type":"quantitative","scale":{"domain":[0,0.8],"range":[116,6]},"axis":{"values":[0,0.2,0.4,0.6,0.8],"labels":false,"title":null,"tickSize":4,"domainColor":"#888","tickColor":"#888"}}},
"layer":[
{"mark":{"type":"line","strokeWidth":1.1},"encoding":{"strokeDash":{"field":"dose","type":"nominal","scale":{"domain":["0","30","90","180"],"range":[[1,0],[8,3],[4,3],[1,2]]},"legend":null},"stroke":{"field":"dose","type":"nominal","scale":{"domain":["0","30","90","180"],"range":["#000","#111","#111","#555"]},"legend":null}}},
{"transform":[{"filter":"isValid(datum.err)"}],"mark":{"type":"rule","strokeWidth":0.8,"color":"#000"},"encoding":{"y2":{"field":"err"}}},
{"mark":{"type":"point","filled":true,"stroke":"#000","strokeWidth":0.8,"size":16,"opacity":1},"encoding":{"shape":{"field":"dose","type":"nominal","scale":{"domain":["0","30","90","180"],"range":["circle","stroke","M-1,-1L1,1M1,-1L-1,1","diamond"]},"legend":null},"fill":{"field":"dose","type":"nominal","scale":{"domain":["0","30","90","180"],"range":["#000","#000","#000","#fff"]},"legend":null}}},
{"transform":[{"filter":"isValid(datum.note)"}],"mark":{"type":"text","dy":-8,"fontSize":10,"color":"#111"},"encoding":{"y":{"field":"err","type":"quantitative"},"text":{"field":"note"}}}
]},
{"width":208,"height":130,"title":{"text":"Lysine","fontSize":9,"fontWeight":"bold","frame":"group","offset":0,"dy":12,"dx":5},"data":{"name":"bars"},"transform":[{"filter":"datum.a=='Lysine'"}],"encoding":{"x":{"field":"slot","type":"nominal","scale":{"domain":["A0","A30","A90","A180","gap","B0","B30","B90","B180"],"paddingInner":0.26,"paddingOuter":0.14},"axis":{"labels":false,"ticks":false,"title":null}},"y":{"field":"v","type":"quantitative","scale":{"domain":[0,30],"range":[130,25],"nice":false},"axis":{"values":[0,10,20,30],"title":null,"labelFontSize":9,"tickSize":3,"labelPadding":4}}},
"layer":[
{"mark":{"type":"bar","stroke":"#000","strokeWidth":0.8},"encoding":{"color":{"field":"g","type":"nominal","scale":{"domain":["A","B"],"range":["#878787","#222222"]},"legend":null}}},
{"mark":{"type":"rule","color":"#000","strokeWidth":1},"encoding":{"y2":{"field":"err"}}},
{"transform":[{"filter":"isValid(datum.note)"}],"mark":{"type":"text","dy":-5,"fontSize":8,"color":"#444"},"encoding":{"y":{"field":"err","type":"quantitative"},"text":{"field":"note"}}},
{"data":{"name":"sig"},"transform":[{"filter":"datum.a=='Lysine'"}],"mark":{"type":"rule","color":"#777","strokeWidth":1},"encoding":{"x":{"field":"from","type":"nominal"},"x2":{"field":"to"},"y":{"field":"top","type":"quantitative"}}},
{"data":{"name":"sig"},"transform":[{"filter":"datum.a=='Lysine'"}],"mark":{"type":"text","dy":-5,"fontSize":11,"color":"#000"},"encoding":{"x":{"field":"mid","type":"nominal"},"y":{"field":"top","type":"quantitative"},"text":{"field":"note"}}}
]}
],"spacing":29,"bounds":"flush"},

{"hconcat":[
{"width":192,"height":128,"data":{"name":"lines"},"transform":[{"filter":"datum.a=='Alanine' && datum.g=='A'"}],"encoding":{"x":{"field":"t","type":"quantitative","scale":{"domain":[0,60]},"axis":{"values":[0,15,30,45,60],"title":"Time (min)","labelFontSize":12,"titleFontSize":11,"tickSize":4,"labelPadding":3,"titlePadding":3,"labelFlush":false,"domainColor":"#888","tickColor":"#888"}},"y":{"field":"v","type":"quantitative","scale":{"domain":[0,0.6],"range":[128,13]},"axis":{"values":[0,0.2,0.4,0.6],"format":".2f","title":"Alanine","labelFontSize":12,"titleFontSize":12,"tickSize":3,"labelPadding":7,"titlePadding":2,"domainColor":"#888","tickColor":"#888"}}},
"layer":[
{"mark":{"type":"line","strokeWidth":1.1},"encoding":{"strokeDash":{"field":"dose","type":"nominal","scale":{"domain":["0","30","90","180"],"range":[[1,0],[8,3],[4,3],[1,2]]},"legend":null},"stroke":{"field":"dose","type":"nominal","scale":{"domain":["0","30","90","180"],"range":["#000","#111","#111","#555"]},"legend":null}}},
{"transform":[{"filter":"isValid(datum.err)"}],"mark":{"type":"rule","strokeWidth":0.8,"color":"#000"},"encoding":{"y2":{"field":"err"}}},
{"mark":{"type":"point","filled":true,"stroke":"#000","strokeWidth":0.8,"size":16,"opacity":1},"encoding":{"shape":{"field":"dose","type":"nominal","scale":{"domain":["0","30","90","180"],"range":["circle","stroke","M-1,-1L1,1M1,-1L-1,1","diamond"]},"legend":null},"fill":{"field":"dose","type":"nominal","scale":{"domain":["0","30","90","180"],"range":["#000","#000","#000","#fff"]},"legend":null}}},
{"transform":[{"filter":"isValid(datum.note)"}],"mark":{"type":"text","dy":-8,"fontSize":10,"color":"#111"},"encoding":{"y":{"field":"err","type":"quantitative"},"text":{"field":"note"}}}
]},
{"width":211,"height":128,"data":{"name":"lines"},"transform":[{"filter":"datum.a=='Alanine' && datum.g=='B'"}],"encoding":{"x":{"field":"t","type":"quantitative","scale":{"domain":[0,60],"range":[0,193]},"axis":{"values":[0,15,30,45,60],"title":"Time (min)","labelFontSize":12,"titleFontSize":11,"tickSize":4,"labelPadding":3,"titlePadding":3,"labelFlush":false,"domainColor":"#888","tickColor":"#888"}},"y":{"field":"v","type":"quantitative","scale":{"domain":[0,0.6],"range":[128,13]},"axis":{"values":[0,0.2,0.4,0.6],"labels":false,"title":null,"tickSize":4,"domainColor":"#888","tickColor":"#888"}}},
"layer":[
{"mark":{"type":"line","strokeWidth":1.1},"encoding":{"strokeDash":{"field":"dose","type":"nominal","scale":{"domain":["0","30","90","180"],"range":[[1,0],[8,3],[4,3],[1,2]]},"legend":null},"stroke":{"field":"dose","type":"nominal","scale":{"domain":["0","30","90","180"],"range":["#000","#111","#111","#555"]},"legend":null}}},
{"transform":[{"filter":"isValid(datum.err)"}],"mark":{"type":"rule","strokeWidth":0.8,"color":"#000"},"encoding":{"y2":{"field":"err"}}},
{"mark":{"type":"point","filled":true,"stroke":"#000","strokeWidth":0.8,"size":16,"opacity":1},"encoding":{"shape":{"field":"dose","type":"nominal","scale":{"domain":["0","30","90","180"],"range":["circle","stroke","M-1,-1L1,1M1,-1L-1,1","diamond"]},"legend":null},"fill":{"field":"dose","type":"nominal","scale":{"domain":["0","30","90","180"],"range":["#000","#000","#000","#fff"]},"legend":null}}},
{"transform":[{"filter":"isValid(datum.note)"}],"mark":{"type":"text","dy":-8,"fontSize":10,"color":"#111"},"encoding":{"y":{"field":"err","type":"quantitative"},"text":{"field":"note"}}}
]},
{"width":208,"height":141,"title":{"text":"Alanine","fontSize":9,"fontWeight":"bold","frame":"group","offset":0,"dy":18,"dx":5},"data":{"name":"bars"},"transform":[{"filter":"datum.a=='Alanine'"}],"encoding":{"x":{"field":"slot","type":"nominal","scale":{"domain":["A0","A30","A90","A180","gap","B0","B30","B90","B180"],"paddingInner":0.26,"paddingOuter":0.14},"axis":{"labelExpr":"datum.value=='gap' ? '' : substring(datum.value,1)","labelAngle":0,"ticks":false,"title":"Protein (kcal)","labelFontSize":9,"titleFontSize":9,"labelPadding":3,"titlePadding":2}},"y":{"field":"v","type":"quantitative","scale":{"domain":[0,30],"range":[141,36],"nice":false},"axis":{"values":[0,10,20,30],"title":null,"labelFontSize":9,"tickSize":3,"labelPadding":4}}},
"layer":[
{"mark":{"type":"bar","stroke":"#000","strokeWidth":0.8},"encoding":{"color":{"field":"g","type":"nominal","scale":{"domain":["A","B"],"range":["#878787","#222222"]},"legend":null}}},
{"mark":{"type":"rule","color":"#000","strokeWidth":1},"encoding":{"y2":{"field":"err"}}},
{"transform":[{"filter":"isValid(datum.note)"}],"mark":{"type":"text","dy":-5,"fontSize":8,"color":"#444"},"encoding":{"y":{"field":"err","type":"quantitative"},"text":{"field":"note"}}},
{"data":{"name":"sig"},"transform":[{"filter":"datum.a=='Alanine'"}],"mark":{"type":"rule","color":"#777","strokeWidth":1},"encoding":{"x":{"field":"from","type":"nominal"},"x2":{"field":"to"},"y":{"field":"top","type":"quantitative"}}},
{"data":{"name":"sig"},"transform":[{"filter":"datum.a=='Alanine'"}],"mark":{"type":"text","dy":-5,"fontSize":11,"color":"#000"},"encoding":{"x":{"field":"mid","type":"nominal"},"y":{"field":"top","type":"quantitative"},"text":{"field":"note"}}}
]}
],"spacing":29,"bounds":"flush"},

{"hconcat":[
{"width":192,"height":131,"data":{"name":"lines"},"transform":[{"filter":"datum.a=='Isoleucine' && datum.g=='A'"}],"encoding":{"x":{"field":"t","type":"quantitative","scale":{"domain":[0,60]},"axis":null},"y":{"field":"v","type":"quantitative","scale":{"domain":[0,0.4],"range":[131,18]},"axis":{"values":[0,0.1,0.2,0.3,0.4],"format":".2f","title":"Isoleucine","labelFontSize":12,"titleFontSize":12,"tickSize":3,"labelPadding":7,"titlePadding":2,"domainColor":"#888","tickColor":"#888"}}},
"layer":[
{"mark":{"type":"line","strokeWidth":1.1},"encoding":{"strokeDash":{"field":"dose","type":"nominal","scale":{"domain":["0","30","90","180"],"range":[[1,0],[8,3],[4,3],[1,2]]},"legend":null},"stroke":{"field":"dose","type":"nominal","scale":{"domain":["0","30","90","180"],"range":["#000","#111","#111","#555"]},"legend":null}}},
{"transform":[{"filter":"isValid(datum.err)"}],"mark":{"type":"rule","strokeWidth":0.8,"color":"#000"},"encoding":{"y2":{"field":"err"}}},
{"mark":{"type":"point","filled":true,"stroke":"#000","strokeWidth":0.8,"size":16,"opacity":1},"encoding":{"shape":{"field":"dose","type":"nominal","scale":{"domain":["0","30","90","180"],"range":["circle","stroke","M-1,-1L1,1M1,-1L-1,1","diamond"]},"legend":null},"fill":{"field":"dose","type":"nominal","scale":{"domain":["0","30","90","180"],"range":["#000","#000","#000","#fff"]},"legend":null}}},
{"transform":[{"filter":"isValid(datum.note)"}],"mark":{"type":"text","dy":-8,"fontSize":10,"color":"#111"},"encoding":{"y":{"field":"err","type":"quantitative"},"text":{"field":"note"}}}
]},
{"width":211,"height":131,"data":{"name":"lines"},"transform":[{"filter":"datum.a=='Isoleucine' && datum.g=='B'"}],"encoding":{"x":{"field":"t","type":"quantitative","scale":{"domain":[0,60],"range":[0,193]},"axis":null},"y":{"field":"v","type":"quantitative","scale":{"domain":[0,0.4],"range":[131,18]},"axis":{"values":[0,0.1,0.2,0.3,0.4],"labels":false,"title":null,"tickSize":4,"domainColor":"#888","tickColor":"#888"}}},
"layer":[
{"mark":{"type":"line","strokeWidth":1.1},"encoding":{"strokeDash":{"field":"dose","type":"nominal","scale":{"domain":["0","30","90","180"],"range":[[1,0],[8,3],[4,3],[1,2]]},"legend":null},"stroke":{"field":"dose","type":"nominal","scale":{"domain":["0","30","90","180"],"range":["#000","#111","#111","#555"]},"legend":null}}},
{"transform":[{"filter":"isValid(datum.err)"}],"mark":{"type":"rule","strokeWidth":0.8,"color":"#000"},"encoding":{"y2":{"field":"err"}}},
{"mark":{"type":"point","filled":true,"stroke":"#000","strokeWidth":0.8,"size":16,"opacity":1},"encoding":{"shape":{"field":"dose","type":"nominal","scale":{"domain":["0","30","90","180"],"range":["circle","stroke","M-1,-1L1,1M1,-1L-1,1","diamond"]},"legend":null},"fill":{"field":"dose","type":"nominal","scale":{"domain":["0","30","90","180"],"range":["#000","#000","#000","#fff"]},"legend":null}}},
{"transform":[{"filter":"isValid(datum.note)"}],"mark":{"type":"text","dy":-8,"fontSize":10,"color":"#111"},"encoding":{"y":{"field":"err","type":"quantitative"},"text":{"field":"note"}}}
]},
{"width":208,"height":141,"title":{"text":"Isoleucine","fontSize":9,"fontWeight":"bold","frame":"group","offset":0,"dy":20,"dx":5},"data":{"name":"bars"},"transform":[{"filter":"datum.a=='Isoleucine'"}],"encoding":{"x":{"field":"slot","type":"nominal","scale":{"domain":["A0","A30","A90","A180","gap","B0","B30","B90","B180"],"paddingInner":0.26,"paddingOuter":0.14},"axis":{"labels":false,"ticks":false,"title":null}},"y":{"field":"v","type":"quantitative","scale":{"domain":[0,15],"range":[141,36],"nice":false},"axis":{"values":[0,5,10,15],"title":null,"labelFontSize":9,"tickSize":3,"labelPadding":4}}},
"layer":[
{"mark":{"type":"bar","stroke":"#000","strokeWidth":0.8},"encoding":{"color":{"field":"g","type":"nominal","scale":{"domain":["A","B"],"range":["#878787","#222222"]},"legend":null}}},
{"mark":{"type":"rule","color":"#000","strokeWidth":1},"encoding":{"y2":{"field":"err"}}},
{"transform":[{"filter":"isValid(datum.note)"}],"mark":{"type":"text","dy":-5,"fontSize":8,"color":"#444"},"encoding":{"y":{"field":"err","type":"quantitative"},"text":{"field":"note"}}},
{"data":{"name":"sig"},"transform":[{"filter":"datum.a=='Isoleucine'"}],"mark":{"type":"rule","color":"#777","strokeWidth":1},"encoding":{"x":{"field":"from","type":"nominal"},"x2":{"field":"to"},"y":{"field":"top","type":"quantitative"}}},
{"data":{"name":"sig"},"transform":[{"filter":"datum.a=='Isoleucine'"}],"mark":{"type":"text","dy":-5,"fontSize":11,"color":"#000"},"encoding":{"x":{"field":"mid","type":"nominal"},"y":{"field":"top","type":"quantitative"},"text":{"field":"note"}}}
]}
],"spacing":29,"bounds":"flush"},

{"hconcat":[
{"width":192,"height":123,"data":{"name":"lines"},"transform":[{"filter":"datum.a=='Valine' && datum.g=='A'"}],"encoding":{"x":{"field":"t","type":"quantitative","scale":{"domain":[0,60]},"axis":null},"y":{"field":"v","type":"quantitative","scale":{"domain":[0,0.6],"range":[123,9]},"axis":{"values":[0,0.2,0.4,0.6],"format":".2f","title":"Valine","labelFontSize":12,"titleFontSize":12,"tickSize":3,"labelPadding":7,"titlePadding":2,"domainColor":"#888","tickColor":"#888"}}},
"layer":[
{"mark":{"type":"line","strokeWidth":1.1},"encoding":{"strokeDash":{"field":"dose","type":"nominal","scale":{"domain":["0","30","90","180"],"range":[[1,0],[8,3],[4,3],[1,2]]},"legend":null},"stroke":{"field":"dose","type":"nominal","scale":{"domain":["0","30","90","180"],"range":["#000","#111","#111","#555"]},"legend":null}}},
{"transform":[{"filter":"isValid(datum.err)"}],"mark":{"type":"rule","strokeWidth":0.8,"color":"#000"},"encoding":{"y2":{"field":"err"}}},
{"mark":{"type":"point","filled":true,"stroke":"#000","strokeWidth":0.8,"size":16,"opacity":1},"encoding":{"shape":{"field":"dose","type":"nominal","scale":{"domain":["0","30","90","180"],"range":["circle","stroke","M-1,-1L1,1M1,-1L-1,1","diamond"]},"legend":null},"fill":{"field":"dose","type":"nominal","scale":{"domain":["0","30","90","180"],"range":["#000","#000","#000","#fff"]},"legend":null}}},
{"transform":[{"filter":"isValid(datum.note)"}],"mark":{"type":"text","dy":-8,"fontSize":10,"color":"#111"},"encoding":{"y":{"field":"err","type":"quantitative"},"text":{"field":"note"}}}
]},
{"width":211,"height":123,"data":{"name":"lines"},"transform":[{"filter":"datum.a=='Valine' && datum.g=='B'"}],"encoding":{"x":{"field":"t","type":"quantitative","scale":{"domain":[0,60],"range":[0,193]},"axis":null},"y":{"field":"v","type":"quantitative","scale":{"domain":[0,0.6],"range":[123,9]},"axis":{"values":[0,0.2,0.4,0.6],"labels":false,"title":null,"tickSize":4,"domainColor":"#888","tickColor":"#888"}}},
"layer":[
{"mark":{"type":"line","strokeWidth":1.1},"encoding":{"strokeDash":{"field":"dose","type":"nominal","scale":{"domain":["0","30","90","180"],"range":[[1,0],[8,3],[4,3],[1,2]]},"legend":null},"stroke":{"field":"dose","type":"nominal","scale":{"domain":["0","30","90","180"],"range":["#000","#111","#111","#555"]},"legend":null}}},
{"transform":[{"filter":"isValid(datum.err)"}],"mark":{"type":"rule","strokeWidth":0.8,"color":"#000"},"encoding":{"y2":{"field":"err"}}},
{"mark":{"type":"point","filled":true,"stroke":"#000","strokeWidth":0.8,"size":16,"opacity":1},"encoding":{"shape":{"field":"dose","type":"nominal","scale":{"domain":["0","30","90","180"],"range":["circle","stroke","M-1,-1L1,1M1,-1L-1,1","diamond"]},"legend":null},"fill":{"field":"dose","type":"nominal","scale":{"domain":["0","30","90","180"],"range":["#000","#000","#000","#fff"]},"legend":null}}},
{"transform":[{"filter":"isValid(datum.note)"}],"mark":{"type":"text","dy":-8,"fontSize":10,"color":"#111"},"encoding":{"y":{"field":"err","type":"quantitative"},"text":{"field":"note"}}}
]},
{"width":208,"height":129,"title":{"text":"Valine","fontSize":9,"fontWeight":"bold","frame":"group","offset":0,"dy":9,"dx":5},"data":{"name":"bars"},"transform":[{"filter":"datum.a=='Valine'"}],"encoding":{"x":{"field":"slot","type":"nominal","scale":{"domain":["A0","A30","A90","A180","gap","B0","B30","B90","B180"],"paddingInner":0.26,"paddingOuter":0.14},"axis":{"labels":false,"ticks":false,"title":null}},"y":{"field":"v","type":"quantitative","scale":{"domain":[0,25],"range":[129,24],"nice":false},"axis":{"values":[0,5,10,15,20,25],"title":null,"labelFontSize":9,"tickSize":3,"labelPadding":4}}},
"layer":[
{"mark":{"type":"bar","stroke":"#000","strokeWidth":0.8},"encoding":{"color":{"field":"g","type":"nominal","scale":{"domain":["A","B"],"range":["#878787","#222222"]},"legend":null}}},
{"mark":{"type":"rule","color":"#000","strokeWidth":1},"encoding":{"y2":{"field":"err"}}},
{"transform":[{"filter":"isValid(datum.note)"}],"mark":{"type":"text","dy":-5,"fontSize":8,"color":"#444"},"encoding":{"y":{"field":"err","type":"quantitative"},"text":{"field":"note"}}},
{"data":{"name":"sig"},"transform":[{"filter":"datum.a=='Valine'"}],"mark":{"type":"rule","color":"#777","strokeWidth":1},"encoding":{"x":{"field":"from","type":"nominal"},"x2":{"field":"to"},"y":{"field":"top","type":"quantitative"}}},
{"data":{"name":"sig"},"transform":[{"filter":"datum.a=='Valine'"}],"mark":{"type":"text","dy":-5,"fontSize":11,"color":"#000"},"encoding":{"x":{"field":"mid","type":"nominal"},"y":{"field":"top","type":"quantitative"},"text":{"field":"note"}}}
]}
],"spacing":29,"bounds":"flush"},

{"hconcat":[
{"width":192,"height":132,"data":{"name":"lines"},"transform":[{"filter":"datum.a=='Proline' && datum.g=='A'"}],"encoding":{"x":{"field":"t","type":"quantitative","scale":{"domain":[0,60]},"axis":null},"y":{"field":"v","type":"quantitative","scale":{"domain":[0,0.4],"range":[132,19]},"axis":{"values":[0,0.1,0.2,0.3,0.4],"format":".2f","title":"Proline","labelFontSize":12,"titleFontSize":12,"tickSize":3,"labelPadding":7,"titlePadding":2,"domainColor":"#888","tickColor":"#888"}}},
"layer":[
{"mark":{"type":"line","strokeWidth":1.1},"encoding":{"strokeDash":{"field":"dose","type":"nominal","scale":{"domain":["0","30","90","180"],"range":[[1,0],[8,3],[4,3],[1,2]]},"legend":null},"stroke":{"field":"dose","type":"nominal","scale":{"domain":["0","30","90","180"],"range":["#000","#111","#111","#555"]},"legend":null}}},
{"transform":[{"filter":"isValid(datum.err)"}],"mark":{"type":"rule","strokeWidth":0.8,"color":"#000"},"encoding":{"y2":{"field":"err"}}},
{"mark":{"type":"point","filled":true,"stroke":"#000","strokeWidth":0.8,"size":16,"opacity":1},"encoding":{"shape":{"field":"dose","type":"nominal","scale":{"domain":["0","30","90","180"],"range":["circle","stroke","M-1,-1L1,1M1,-1L-1,1","diamond"]},"legend":null},"fill":{"field":"dose","type":"nominal","scale":{"domain":["0","30","90","180"],"range":["#000","#000","#000","#fff"]},"legend":null}}},
{"transform":[{"filter":"isValid(datum.note)"}],"mark":{"type":"text","dy":-8,"fontSize":10,"color":"#111"},"encoding":{"y":{"field":"err","type":"quantitative"},"text":{"field":"note"}}}
]},
{"width":211,"height":132,"data":{"name":"lines"},"transform":[{"filter":"datum.a=='Proline' && datum.g=='B'"}],"encoding":{"x":{"field":"t","type":"quantitative","scale":{"domain":[0,60],"range":[0,193]},"axis":null},"y":{"field":"v","type":"quantitative","scale":{"domain":[0,0.4],"range":[132,19]},"axis":{"values":[0,0.1,0.2,0.3,0.4],"labels":false,"title":null,"tickSize":4,"domainColor":"#888","tickColor":"#888"}}},
"layer":[
{"mark":{"type":"line","strokeWidth":1.1},"encoding":{"strokeDash":{"field":"dose","type":"nominal","scale":{"domain":["0","30","90","180"],"range":[[1,0],[8,3],[4,3],[1,2]]},"legend":null},"stroke":{"field":"dose","type":"nominal","scale":{"domain":["0","30","90","180"],"range":["#000","#111","#111","#555"]},"legend":null}}},
{"transform":[{"filter":"isValid(datum.err)"}],"mark":{"type":"rule","strokeWidth":0.8,"color":"#000"},"encoding":{"y2":{"field":"err"}}},
{"mark":{"type":"point","filled":true,"stroke":"#000","strokeWidth":0.8,"size":16,"opacity":1},"encoding":{"shape":{"field":"dose","type":"nominal","scale":{"domain":["0","30","90","180"],"range":["circle","stroke","M-1,-1L1,1M1,-1L-1,1","diamond"]},"legend":null},"fill":{"field":"dose","type":"nominal","scale":{"domain":["0","30","90","180"],"range":["#000","#000","#000","#fff"]},"legend":null}}},
{"transform":[{"filter":"isValid(datum.note)"}],"mark":{"type":"text","dy":-8,"fontSize":10,"color":"#111"},"encoding":{"y":{"field":"err","type":"quantitative"},"text":{"field":"note"}}}
]},
{"width":208,"height":139,"title":{"text":"Proline","fontSize":9,"fontWeight":"bold","frame":"group","offset":0,"dy":19,"dx":5},"data":{"name":"bars"},"transform":[{"filter":"datum.a=='Proline'"}],"encoding":{"x":{"field":"slot","type":"nominal","scale":{"domain":["A0","A30","A90","A180","gap","B0","B30","B90","B180"],"paddingInner":0.26,"paddingOuter":0.14},"axis":{"labels":false,"ticks":false,"title":null}},"y":{"field":"v","type":"quantitative","scale":{"domain":[0,20],"range":[139,34],"nice":false},"axis":{"values":[0,5,10,15,20],"title":null,"labelFontSize":9,"tickSize":3,"labelPadding":4}}},
"layer":[
{"mark":{"type":"bar","stroke":"#000","strokeWidth":0.8},"encoding":{"color":{"field":"g","type":"nominal","scale":{"domain":["A","B"],"range":["#878787","#222222"]},"legend":null}}},
{"mark":{"type":"rule","color":"#000","strokeWidth":1},"encoding":{"y2":{"field":"err"}}},
{"transform":[{"filter":"isValid(datum.note)"}],"mark":{"type":"text","dy":-5,"fontSize":8,"color":"#444"},"encoding":{"y":{"field":"err","type":"quantitative"},"text":{"field":"note"}}},
{"data":{"name":"sig"},"transform":[{"filter":"datum.a=='Proline'"}],"mark":{"type":"rule","color":"#777","strokeWidth":1},"encoding":{"x":{"field":"from","type":"nominal"},"x2":{"field":"to"},"y":{"field":"top","type":"quantitative"}}},
{"data":{"name":"sig"},"transform":[{"filter":"datum.a=='Proline'"}],"mark":{"type":"text","dy":-5,"fontSize":11,"color":"#000"},"encoding":{"x":{"field":"mid","type":"nominal"},"y":{"field":"top","type":"quantitative"},"text":{"field":"note"}}}
]}
],"spacing":29,"bounds":"flush"},

{"hconcat":[
{"width":192,"height":126,"data":{"name":"lines"},"transform":[{"filter":"datum.a=='Threonine' && datum.g=='A'"}],"encoding":{"x":{"field":"t","type":"quantitative","scale":{"domain":[0,60]},"axis":null},"y":{"field":"v","type":"quantitative","scale":{"domain":[0,0.3],"range":[126,12]},"axis":{"values":[0,0.05,0.1,0.15,0.2,0.25,0.3],"format":".2f","title":"Threonine","labelFontSize":12,"titleFontSize":12,"tickSize":3,"labelPadding":7,"titlePadding":2,"domainColor":"#888","tickColor":"#888"}}},
"layer":[
{"mark":{"type":"line","strokeWidth":1.1},"encoding":{"strokeDash":{"field":"dose","type":"nominal","scale":{"domain":["0","30","90","180"],"range":[[1,0],[8,3],[4,3],[1,2]]},"legend":null},"stroke":{"field":"dose","type":"nominal","scale":{"domain":["0","30","90","180"],"range":["#000","#111","#111","#555"]},"legend":null}}},
{"transform":[{"filter":"isValid(datum.err)"}],"mark":{"type":"rule","strokeWidth":0.8,"color":"#000"},"encoding":{"y2":{"field":"err"}}},
{"mark":{"type":"point","filled":true,"stroke":"#000","strokeWidth":0.8,"size":16,"opacity":1},"encoding":{"shape":{"field":"dose","type":"nominal","scale":{"domain":["0","30","90","180"],"range":["circle","stroke","M-1,-1L1,1M1,-1L-1,1","diamond"]},"legend":null},"fill":{"field":"dose","type":"nominal","scale":{"domain":["0","30","90","180"],"range":["#000","#000","#000","#fff"]},"legend":null}}},
{"transform":[{"filter":"isValid(datum.note)"}],"mark":{"type":"text","dy":-8,"fontSize":10,"color":"#111"},"encoding":{"y":{"field":"err","type":"quantitative"},"text":{"field":"note"}}}
]},
{"width":211,"height":126,"data":{"name":"lines"},"transform":[{"filter":"datum.a=='Threonine' && datum.g=='B'"}],"encoding":{"x":{"field":"t","type":"quantitative","scale":{"domain":[0,60],"range":[0,193]},"axis":null},"y":{"field":"v","type":"quantitative","scale":{"domain":[0,0.3],"range":[126,12]},"axis":{"values":[0,0.05,0.1,0.15,0.2,0.25,0.3],"labels":false,"title":null,"tickSize":4,"domainColor":"#888","tickColor":"#888"}}},
"layer":[
{"mark":{"type":"line","strokeWidth":1.1},"encoding":{"strokeDash":{"field":"dose","type":"nominal","scale":{"domain":["0","30","90","180"],"range":[[1,0],[8,3],[4,3],[1,2]]},"legend":null},"stroke":{"field":"dose","type":"nominal","scale":{"domain":["0","30","90","180"],"range":["#000","#111","#111","#555"]},"legend":null}}},
{"transform":[{"filter":"isValid(datum.err)"}],"mark":{"type":"rule","strokeWidth":0.8,"color":"#000"},"encoding":{"y2":{"field":"err"}}},
{"mark":{"type":"point","filled":true,"stroke":"#000","strokeWidth":0.8,"size":16,"opacity":1},"encoding":{"shape":{"field":"dose","type":"nominal","scale":{"domain":["0","30","90","180"],"range":["circle","stroke","M-1,-1L1,1M1,-1L-1,1","diamond"]},"legend":null},"fill":{"field":"dose","type":"nominal","scale":{"domain":["0","30","90","180"],"range":["#000","#000","#000","#fff"]},"legend":null}}},
{"transform":[{"filter":"isValid(datum.note)"}],"mark":{"type":"text","dy":-8,"fontSize":10,"color":"#111"},"encoding":{"y":{"field":"err","type":"quantitative"},"text":{"field":"note"}}}
]},
{"width":208,"height":132,"title":{"text":"Threonine","fontSize":9,"fontWeight":"bold","frame":"group","offset":0,"dy":12,"dx":5},"data":{"name":"bars"},"transform":[{"filter":"datum.a=='Threonine'"}],"encoding":{"x":{"field":"slot","type":"nominal","scale":{"domain":["A0","A30","A90","A180","gap","B0","B30","B90","B180"],"paddingInner":0.26,"paddingOuter":0.14},"axis":{"labels":false,"ticks":false,"title":null}},"y":{"field":"v","type":"quantitative","scale":{"domain":[0,15],"range":[132,27],"nice":false},"axis":{"values":[0,5,10,15],"title":null,"labelFontSize":9,"tickSize":3,"labelPadding":4}}},
"layer":[
{"mark":{"type":"bar","stroke":"#000","strokeWidth":0.8},"encoding":{"color":{"field":"g","type":"nominal","scale":{"domain":["A","B"],"range":["#878787","#222222"]},"legend":null}}},
{"mark":{"type":"rule","color":"#000","strokeWidth":1},"encoding":{"y2":{"field":"err"}}},
{"transform":[{"filter":"isValid(datum.note)"}],"mark":{"type":"text","dy":-5,"fontSize":8,"color":"#444"},"encoding":{"y":{"field":"err","type":"quantitative"},"text":{"field":"note"}}},
{"data":{"name":"sig"},"transform":[{"filter":"datum.a=='Threonine'"}],"mark":{"type":"rule","color":"#777","strokeWidth":1},"encoding":{"x":{"field":"from","type":"nominal"},"x2":{"field":"to"},"y":{"field":"top","type":"quantitative"}}},
{"data":{"name":"sig"},"transform":[{"filter":"datum.a=='Threonine'"}],"mark":{"type":"text","dy":-5,"fontSize":11,"color":"#000"},"encoding":{"x":{"field":"mid","type":"nominal"},"y":{"field":"top","type":"quantitative"},"text":{"field":"note"}}}
]}
],"spacing":29,"bounds":"flush"},

{"hconcat":[
{"width":192,"height":136,"data":{"name":"lines"},"transform":[{"filter":"datum.a=='Tyrosine' && datum.g=='A'"}],"encoding":{"x":{"field":"t","type":"quantitative","scale":{"domain":[0,60]},"axis":null},"y":{"field":"v","type":"quantitative","scale":{"domain":[0,0.2],"range":[136,19]},"axis":{"values":[0,0.05,0.1,0.15,0.2],"format":".2f","title":"Tyrosine","labelFontSize":12,"titleFontSize":12,"tickSize":3,"labelPadding":7,"titlePadding":2,"domainColor":"#888","tickColor":"#888"}}},
"layer":[
{"mark":{"type":"line","strokeWidth":1.1},"encoding":{"strokeDash":{"field":"dose","type":"nominal","scale":{"domain":["0","30","90","180"],"range":[[1,0],[8,3],[4,3],[1,2]]},"legend":null},"stroke":{"field":"dose","type":"nominal","scale":{"domain":["0","30","90","180"],"range":["#000","#111","#111","#555"]},"legend":null}}},
{"transform":[{"filter":"isValid(datum.err)"}],"mark":{"type":"rule","strokeWidth":0.8,"color":"#000"},"encoding":{"y2":{"field":"err"}}},
{"mark":{"type":"point","filled":true,"stroke":"#000","strokeWidth":0.8,"size":16,"opacity":1},"encoding":{"shape":{"field":"dose","type":"nominal","scale":{"domain":["0","30","90","180"],"range":["circle","stroke","M-1,-1L1,1M1,-1L-1,1","diamond"]},"legend":null},"fill":{"field":"dose","type":"nominal","scale":{"domain":["0","30","90","180"],"range":["#000","#000","#000","#fff"]},"legend":null}}},
{"transform":[{"filter":"isValid(datum.note)"}],"mark":{"type":"text","dy":-8,"fontSize":10,"color":"#111"},"encoding":{"y":{"field":"err","type":"quantitative"},"text":{"field":"note"}}}
]},
{"width":211,"height":136,"data":{"name":"lines"},"transform":[{"filter":"datum.a=='Tyrosine' && datum.g=='B'"}],"encoding":{"x":{"field":"t","type":"quantitative","scale":{"domain":[0,60],"range":[0,193]},"axis":null},"y":{"field":"v","type":"quantitative","scale":{"domain":[0,0.2],"range":[136,19]},"axis":{"values":[0,0.05,0.1,0.15,0.2],"labels":false,"title":null,"tickSize":4,"domainColor":"#888","tickColor":"#888"}}},
"layer":[
{"mark":{"type":"line","strokeWidth":1.1},"encoding":{"strokeDash":{"field":"dose","type":"nominal","scale":{"domain":["0","30","90","180"],"range":[[1,0],[8,3],[4,3],[1,2]]},"legend":null},"stroke":{"field":"dose","type":"nominal","scale":{"domain":["0","30","90","180"],"range":["#000","#111","#111","#555"]},"legend":null}}},
{"transform":[{"filter":"isValid(datum.err)"}],"mark":{"type":"rule","strokeWidth":0.8,"color":"#000"},"encoding":{"y2":{"field":"err"}}},
{"mark":{"type":"point","filled":true,"stroke":"#000","strokeWidth":0.8,"size":16,"opacity":1},"encoding":{"shape":{"field":"dose","type":"nominal","scale":{"domain":["0","30","90","180"],"range":["circle","stroke","M-1,-1L1,1M1,-1L-1,1","diamond"]},"legend":null},"fill":{"field":"dose","type":"nominal","scale":{"domain":["0","30","90","180"],"range":["#000","#000","#000","#fff"]},"legend":null}}},
{"transform":[{"filter":"isValid(datum.note)"}],"mark":{"type":"text","dy":-8,"fontSize":10,"color":"#111"},"encoding":{"y":{"field":"err","type":"quantitative"},"text":{"field":"note"}}}
]},
{"width":208,"height":141,"title":{"text":"Tyrosine","fontSize":9,"fontWeight":"bold","frame":"group","offset":0,"dy":21,"dx":5},"data":{"name":"bars"},"transform":[{"filter":"datum.a=='Tyrosine'"}],"encoding":{"x":{"field":"slot","type":"nominal","scale":{"domain":["A0","A30","A90","A180","gap","B0","B30","B90","B180"],"paddingInner":0.26,"paddingOuter":0.14},"axis":{"labels":false,"ticks":false,"title":null}},"y":{"field":"v","type":"quantitative","scale":{"domain":[0,8],"range":[141,37],"nice":false},"axis":{"values":[0,2,4,6,8],"title":null,"labelFontSize":9,"tickSize":3,"labelPadding":4}}},
"layer":[
{"mark":{"type":"bar","stroke":"#000","strokeWidth":0.8},"encoding":{"color":{"field":"g","type":"nominal","scale":{"domain":["A","B"],"range":["#878787","#222222"]},"legend":null}}},
{"mark":{"type":"rule","color":"#000","strokeWidth":1},"encoding":{"y2":{"field":"err"}}},
{"transform":[{"filter":"isValid(datum.note)"}],"mark":{"type":"text","dy":-5,"fontSize":8,"color":"#444"},"encoding":{"y":{"field":"err","type":"quantitative"},"text":{"field":"note"}}},
{"data":{"name":"sig"},"transform":[{"filter":"datum.a=='Tyrosine'"}],"mark":{"type":"rule","color":"#777","strokeWidth":1},"encoding":{"x":{"field":"from","type":"nominal"},"x2":{"field":"to"},"y":{"field":"top","type":"quantitative"}}},
{"data":{"name":"sig"},"transform":[{"filter":"datum.a=='Tyrosine'"}],"mark":{"type":"text","dy":-5,"fontSize":11,"color":"#000"},"encoding":{"x":{"field":"mid","type":"nominal"},"y":{"field":"top","type":"quantitative"},"text":{"field":"note"}}}
]}
],"spacing":29,"bounds":"flush"}
]
}
